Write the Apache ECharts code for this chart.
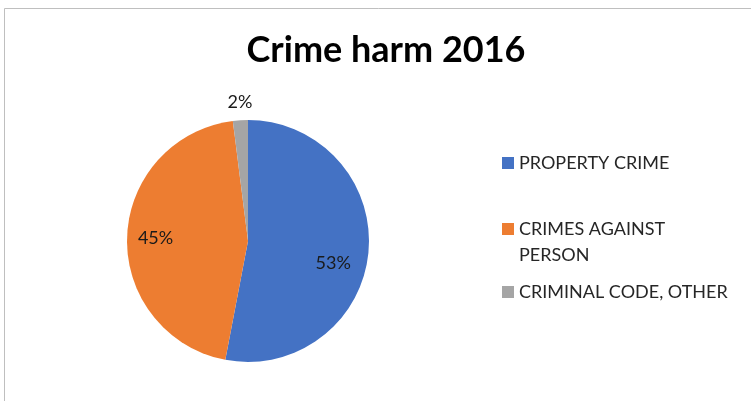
<!DOCTYPE html>
<html>
<head>
<meta charset="utf-8">
<script src="https://cdn.jsdelivr.net/npm/echarts@6/dist/echarts.min.js"></script>
<style>html,body{margin:0;padding:0;background:#fff;}#c{width:751px;height:401px;}</style>
</head>
<body>
<div id="c"></div>
<script>
const titleText = 'Crime harm 2016';
const categories = ['PROPERTY CRIME', 'CRIMES AGAINST PERSON', 'CRIMINAL CODE, OTHER'];
const values = [53, 45, 2];
const colors = ['#4472C4', '#ED7D31', '#A5A5A5'];

const labelOffsets = [[22, 16], [-29, -1], [-4, -75]];
const legendTops = [153, 190, 282];
const FONT = 'Lato, "Open Sans", sans-serif';

const chart = echarts.init(document.getElementById('c'), null, {renderer: 'canvas'});

const legends = categories.map((name, i) => ({
  orient: 'vertical',
  left: 502,
  top: legendTops[i],
  padding: 0,
  itemWidth: 12,
  itemHeight: 12,
  icon: 'rect',
  selectedMode: false,
  data: [name],
  formatter: n => n === 'CRIMES AGAINST PERSON' ? ' \nCRIMES AGAINST\nPERSON' : n,
  textStyle: i === 1 ? {
    fontFamily: FONT, fontSize: 18, color: '#262626', lineHeight: 26
  } : {
    fontFamily: FONT, fontSize: 18, color: '#262626', lineHeight: 20
  }
}));

chart.setOption({
  animation: false,
  title: {
    text: titleText,
    left: 381,
    top: 27,
    textAlign: 'center',
    textStyle: {fontFamily: FONT, fontWeight: 'bold', fontSize: 36, color: '#000'}
  },
  graphic: [{
    type: 'rect',
    shape: {x: 4.5, y: 8.5, width: 800, height: 500},
    style: {fill: 'none', stroke: '#BFBFBF', lineWidth: 1},
    silent: true
  }],
  legend: legends,
  series: [{
    type: 'pie',
    center: [248, 241],
    radius: [0, 121],
    startAngle: 90,
    clockwise: true,
    avoidLabelOverlap: false,
    labelLine: {show: false},
    itemStyle: {borderWidth: 0},
    emphasis: {disabled: true},
    data: categories.map((name, i) => ({
      name: name,
      value: values[i],
      itemStyle: {color: colors[i]},
      label: {offset: labelOffsets[i]}
    })),
    label: {
      show: true,
      position: 'inside',
      formatter: p => Math.round(p.percent) + '%',
      fontFamily: FONT,
      fontSize: 18,
      color: '#1a1a1a'
    }
  }]
});
</script>
</body>
</html>
